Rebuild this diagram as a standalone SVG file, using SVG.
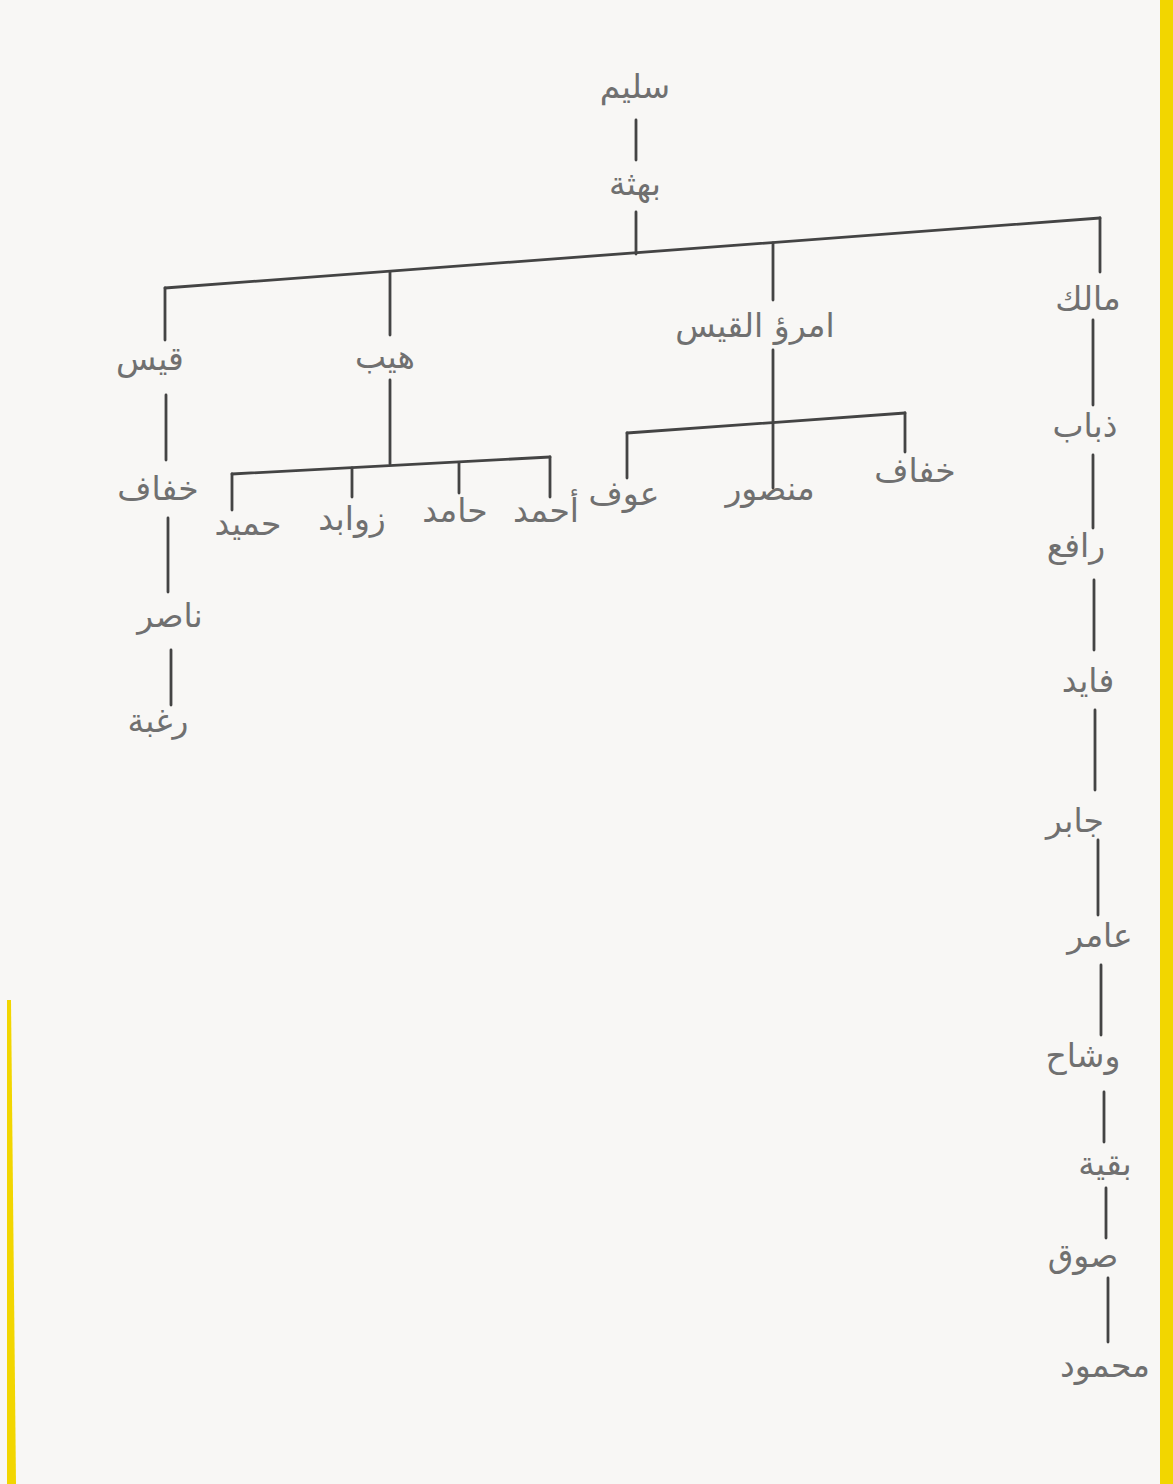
<svg xmlns="http://www.w3.org/2000/svg" width="1173" height="1484" viewBox="0 0 1173 1484">
<style>
.bg{fill:#f8f7f5}
.y{fill:#f2d600}
.ln{stroke:#444;stroke-width:2.8;fill:none;stroke-linecap:round}
.t{font-family:"DejaVu Sans","Noto Sans",sans-serif;font-size:33px;fill:#707070;text-anchor:middle;direction:rtl}
</style>
<rect class="bg" x="0" y="0" width="1173" height="1484"/>
<rect class="y" x="1160" y="0" width="13" height="1484"/>
<polygon class="y" points="7,1000 11,1000 16,1484 7,1484"/>
<g id="connectors">
<line class="ln" x1="636" y1="120" x2="636" y2="160"/>
<line class="ln" x1="636" y1="212" x2="636" y2="254"/>
<line class="ln" x1="165" y1="288" x2="1100" y2="218"/>
<line class="ln" x1="165" y1="288" x2="165" y2="340"/>
<line class="ln" x1="390" y1="272" x2="390" y2="335"/>
<line class="ln" x1="773" y1="243" x2="773" y2="300"/>
<line class="ln" x1="1100" y1="218" x2="1100" y2="272"/>
<line class="ln" x1="773" y1="350" x2="773" y2="488"/>
<line class="ln" x1="627" y1="433" x2="905" y2="413"/>
<line class="ln" x1="627" y1="433" x2="627" y2="478"/>
<line class="ln" x1="905" y1="413" x2="905" y2="452"/>
<line class="ln" x1="390" y1="380" x2="390" y2="464"/>
<line class="ln" x1="232" y1="474" x2="550" y2="457"/>
<line class="ln" x1="232" y1="474" x2="232" y2="510"/>
<line class="ln" x1="352" y1="468" x2="352" y2="497"/>
<line class="ln" x1="459" y1="463" x2="459" y2="493"/>
<line class="ln" x1="550" y1="457" x2="550" y2="497"/>
<line class="ln" x1="166" y1="395" x2="166" y2="460"/>
<line class="ln" x1="168" y1="518" x2="168" y2="592"/>
<line class="ln" x1="171" y1="650" x2="171" y2="705"/>
<line class="ln" x1="1093" y1="320" x2="1093" y2="405"/>
<line class="ln" x1="1093" y1="455" x2="1093" y2="528"/>
<line class="ln" x1="1094" y1="580" x2="1094" y2="650"/>
<line class="ln" x1="1095" y1="710" x2="1095" y2="790"/>
<line class="ln" x1="1098" y1="840" x2="1098" y2="915"/>
<line class="ln" x1="1101" y1="965" x2="1101" y2="1035"/>
<line class="ln" x1="1104" y1="1092" x2="1104" y2="1142"/>
<line class="ln" x1="1106" y1="1188" x2="1106" y2="1238"/>
<line class="ln" x1="1108" y1="1278" x2="1108" y2="1342"/>
</g>
<g id="n-salim"><text class="t" x="635" y="98">سليم</text></g>
<g id="n-buhtha"><text class="t" x="635" y="195">بهثة</text></g>
<g id="n-qays"><text class="t" x="150" y="370">قيس</text></g>
<g id="n-hayb"><text class="t" x="385" y="368">هيب</text></g>
<g id="n-imru"><text class="t" x="755" y="337">امرؤ القيس</text></g>
<g id="n-malik"><text class="t" x="1088" y="310">مالك</text></g>
<g id="n-awf"><text class="t" x="624" y="505">عوف</text></g>
<g id="n-mansur"><text class="t" x="770" y="500">منصور</text></g>
<g id="n-khufaf2"><text class="t" x="915" y="482">خفاف</text></g>
<g id="n-humayd"><text class="t" x="248" y="535">حميد</text></g>
<g id="n-zawabid"><text class="t" x="352" y="530">زوابد</text></g>
<g id="n-hamid"><text class="t" x="455" y="522">حامد</text></g>
<g id="n-ahmad"><text class="t" x="546" y="522">أحمد</text></g>
<g id="n-khufaf1"><text class="t" x="158" y="500">خفاف</text></g>
<g id="n-nasir"><text class="t" x="170" y="627">ناصر</text></g>
<g id="n-raghba"><text class="t" x="158" y="732">رغبة</text></g>
<g id="n-dhubab"><text class="t" x="1085" y="437">ذباب</text></g>
<g id="n-rafi"><text class="t" x="1076" y="557">رافع</text></g>
<g id="n-fayid"><text class="t" x="1088" y="692">فايد</text></g>
<g id="n-jabir"><text class="t" x="1075" y="832">جابر</text></g>
<g id="n-amir"><text class="t" x="1100" y="947">عامر</text></g>
<g id="n-wishah"><text class="t" x="1083" y="1067">وشاح</text></g>
<g id="n-baqiya"><text class="t" x="1105" y="1175">بقية</text></g>
<g id="n-suq"><text class="t" x="1083" y="1267">صوق</text></g>
<g id="n-mahmud"><text class="t" x="1105" y="1377">محمود</text></g>
</svg>
